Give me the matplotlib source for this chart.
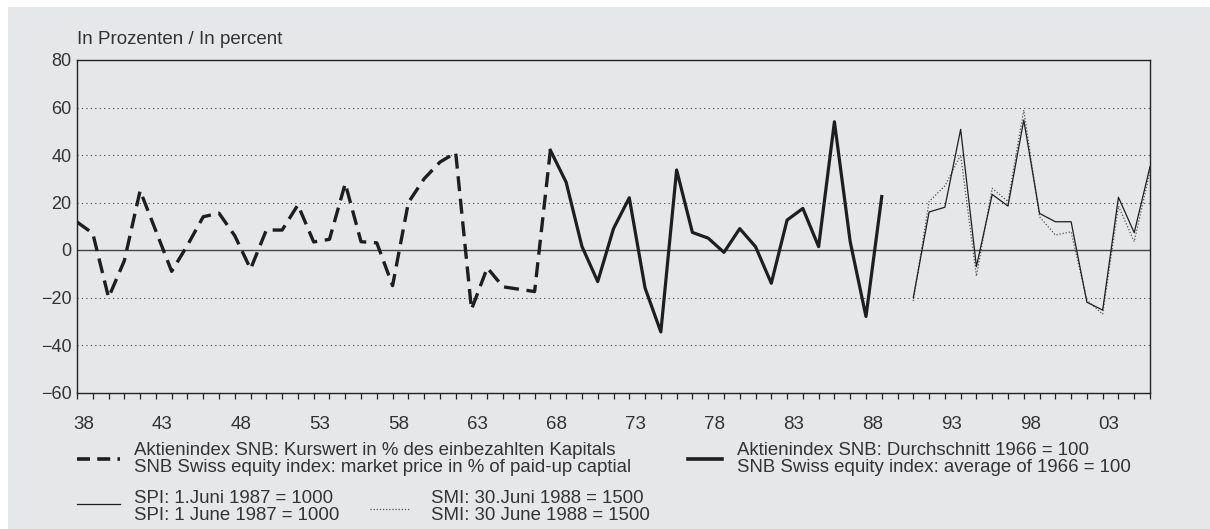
import matplotlib
matplotlib.use('Agg')
import matplotlib.pyplot as plt
from matplotlib.lines import Line2D
from matplotlib.patches import Rectangle

# annual returns in percent, plotted at the end of each year
snb_old_years = list(range(1937, 1968))
snb_old = [11.8, 7, -20, -4.5, 25, 8, -9, 2, 14, 15.5, 6, -8, 8.4, 8.4, 19, 3.4,
           4.5, 28, 3.5, 3, -15, 20, 30, 37, 41, -25, -7.5, -15.5, -16.5, -17.5, 42]
snb_new_years = list(range(1967, 1989))
snb_new = [42, 28.5, 1.5, -13.3, 9, 22, -16, -34.5, 33.7, 7.4, 5, -1, 9, 1.4,
           -14, 12.6, 17.5, 1.4, 54, 3.5, -28, 22.5]
spi_years = list(range(1990, 2006))
spi = [-20, 16, 18, 50.8, -7, 23.4, 18.5, 54.7, 15.4, 11.9, 11.9, -22, -25.3,
       22.2, 7.3, 35.1]
smi_years = list(range(1990, 2006))
smi = [-21.5, 20.4, 27, 40, -11, 26, 20.4, 58.9, 14, 6.3, 7.7, -21.1, -27,
       18.5, 3.5, 33]

label_years = list(range(1938, 2004, 5))
label_text = [str(y)[2:] for y in label_years]
y_ticks = [-60, -40, -20, 0, 20, 40, 60, 80]

W, H = 1210, 529
txt = '#333333'
bg = '#e6e7e9'
plt.rcParams['font.family'] = ['Liberation Sans', 'DejaVu Sans']

fig = plt.figure(figsize=(W / 100, H / 100), dpi=100, facecolor='white')
fig.patches.append(Rectangle((8 / W, 0), 1, 1 - 7 / H, transform=fig.transFigure,
                             facecolor=bg, edgecolor='none', zorder=-10))


def px(x, y):
    return x / W, 1 - y / H


ax = fig.add_axes([77 / W, 1 - 392.5 / H, (1150 - 77) / W, (392.5 - 60) / H])
ax.set_facecolor('none')

ax.plot(snb_old_years, snb_old, color='#1e1e1e', lw=2.4, dashes=(4.5, 2.3),
        solid_joinstyle='miter', zorder=3)
ax.plot(snb_new_years, snb_new, color='#1e1e1e', lw=2.3, zorder=3)
ax.plot(smi_years, smi, color='#555555', lw=0.9, dashes=(1, 1.5), zorder=3)
ax.plot(spi_years, spi, color='#1e1e1e', lw=0.9, zorder=4)

ax.set_xlim(1937, 2005)
ax.set_ylim(-60, 80)

for v in [-40, -20, 20, 40, 60]:
    ax.axhline(v, color='#444444', lw=0.8, dashes=(1, 3), zorder=1)
ax.axhline(0, color='#444444', lw=1.0, zorder=2)

for s in ax.spines.values():
    s.set_color('#222222')
    s.set_linewidth(1.0)

ax.set_yticks(y_ticks)
ax.set_yticklabels(['\u2212' + str(-v) if v < 0 else str(v) for v in y_ticks])
ax.tick_params(axis='y', length=0, pad=4, labelsize=13, labelcolor=txt)

ax.set_xticks(range(1937, 2006))
ax.set_xticklabels([])
ax.tick_params(axis='x', which='major', length=4, width=0.9, color='#222222', direction='out')
ax.set_xticks([y - 0.6 for y in label_years], minor=True)
ax.set_xticklabels(label_text, minor=True)
ax.tick_params(axis='x', which='minor', length=0, pad=17, labelsize=13.5, labelcolor=txt)

fig.text(*px(77, 39), 'In Prozenten / In percent', fontsize=13.5, color=txt,
         ha='left', va='center')

# legend
fs = 13.4
ls = 1.05
fig.add_artist(Line2D([77 / W, 120 / W], [px(0, 459)[1]] * 2, color='#1e1e1e', lw=2.6,
                      dashes=(3.6, 2.0)))
fig.text(*px(134, 459), 'Aktienindex SNB: Kurswert in % des einbezahlten Kapitals\n'
         'SNB Swiss equity index: market price in % of paid-up captial',
         fontsize=fs, color=txt, ha='left', va='center', linespacing=ls)

fig.add_artist(Line2D([688 / W, 722 / W], [px(0, 459)[1]] * 2, color='#1e1e1e', lw=2.6))
fig.text(*px(737, 459), 'Aktienindex SNB: Durchschnitt 1966 = 100\n'
         'SNB Swiss equity index: average of 1966 = 100',
         fontsize=fs, color=txt, ha='left', va='center', linespacing=ls)

fig.add_artist(Line2D([77 / W, 120 / W], [px(0, 504)[1]] * 2, color='#1e1e1e', lw=0.9))
fig.text(*px(134, 507), 'SPI: 1.Juni 1987 = 1000\nSPI: 1 June 1987 = 1000',
         fontsize=fs, color=txt, ha='left', va='center', linespacing=ls)

fig.add_artist(Line2D([370 / W, 410 / W], [px(0, 509)[1]] * 2, color='#555555', lw=0.9,
                      dashes=(1, 1.5)))
fig.text(*px(431, 507), 'SMI: 30.Juni 1988 = 1500\nSMI: 30 June 1988 = 1500',
         fontsize=fs, color=txt, ha='left', va='center', linespacing=ls)

fig.savefig('out.png', dpi=100, facecolor=fig.get_facecolor())
